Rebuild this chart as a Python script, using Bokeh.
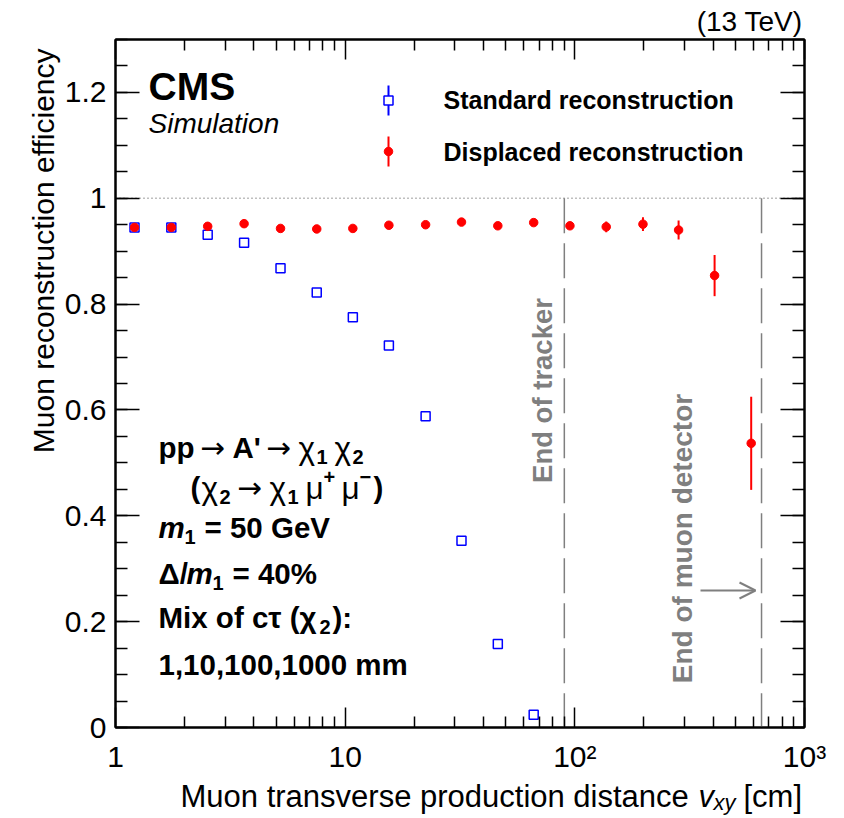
import math
from bokeh.plotting import figure
from bokeh.layouts import column
from bokeh.models import (Label, LogAxis, LinearAxis, FixedTicker, Arrow, OpenHead,
                          ColumnDataSource, Title)
from bokeh.embed import file_html
from bokeh.resources import INLINE

# ---------------- data ----------------
vxy = [1.21, 1.75, 2.52, 3.63, 5.23, 7.52, 10.8, 15.5, 22.4, 32.1, 46.2, 66.2,
       95.2, 137, 198, 283, 406, 586]
disp_eff = [0.945, 0.945, 0.947, 0.952, 0.943, 0.942, 0.943, 0.949, 0.950, 0.955,
            0.948, 0.954, 0.948, 0.946, 0.951, 0.940, 0.854, 0.537]
disp_err = [0.002, 0.002, 0.002, 0.003, 0.003, 0.003, 0.003, 0.003, 0.003, 0.004,
            0.004, 0.005, 0.006, 0.010, 0.013, 0.018, 0.039, 0.088]
std_vxy = [1.21, 1.75, 2.52, 3.63, 5.23, 7.52, 10.8, 15.5, 22.4, 32.1, 46.2, 66.2]
std_eff = [0.945, 0.945, 0.931, 0.916, 0.868, 0.822, 0.775, 0.722, 0.588, 0.353,
           0.158, 0.024]
std_err = [0.002, 0.002, 0.002, 0.002, 0.003, 0.003, 0.003, 0.003, 0.003, 0.003,
           0.003, 0.002]

tracker_end = 90
muon_end = 650
x_major = [1, 10, 100, 1000]
x_minor = [2, 3, 4, 5, 6, 7, 8, 9, 20, 30, 40, 50, 60, 70, 80, 90,
           200, 300, 400, 500, 600, 700, 800, 900]
y_major = [0, 0.2, 0.4, 0.6, 0.8, 1.0, 1.2]
x_labels = {1: "1", 10: "10", 100: "10\u00b2", 1000: "10\u00b3"}
y_labels = {0: "0", 0.2: "0.2", 0.4: "0.4", 0.6: "0.6", 0.8: "0.8", 1: "1", 1.2: "1.2"}

FONT = "Liberation Sans"
ARROWFONT = "DejaVu Sans"
GRAY = "#7f7f7f"

# frame geometry (px) used only for placing annotations
W, H = 844, 818
MAIN_H = 780
L, R, T, B = 115, 804, 39, 727
SHIFT = 11  # label baseline correction (px)


def X(px):
    return 10 ** ((px - L) / (R - L) * 3.0)


def Y(py):
    return (B - py) / (B - T) * 1.3


p = figure(width=W, height=MAIN_H, x_axis_type="log", x_range=(1, 1000), y_range=(0, 1.3),
           output_backend="svg", toolbar_location=None,
           min_border_left=L, min_border_right=W - R, min_border_top=T,
           min_border_bottom=MAIN_H - B)
p.xgrid.visible = False
p.ygrid.visible = False
p.outline_line_color = "black"
p.outline_line_width = 2
p.background_fill_color = "white"
p.border_fill_color = "white"

xt = FixedTicker(ticks=x_major, minor_ticks=x_minor)
yt = FixedTicker(ticks=y_major, minor_ticks=[i * 0.05 for i in range(27)])


def style(ax, labels, major, minor):
    ax.axis_line_width = 2
    ax.major_tick_line_width = 1.5
    ax.minor_tick_line_width = 1.5
    ax.major_tick_in = major
    ax.major_tick_out = 0
    ax.minor_tick_in = minor
    ax.minor_tick_out = 0
    ax.axis_label = None
    if labels:
        ax.major_label_text_font = FONT
        ax.major_label_text_font_size = "30px"
        ax.major_label_text_color = "black"
    else:
        ax.major_label_text_font_size = "1px"
        ax.major_label_text_alpha = 0
        ax.major_label_standoff = 0


bx = p.xaxis[0]
bx.ticker = xt
bx.major_label_overrides = x_labels
bx.major_label_standoff = 12
style(bx, True, 20, 11)
ly = p.yaxis[0]
ly.ticker = yt
ly.major_label_overrides = y_labels
ly.major_label_standoff = 9
style(ly, True, 24, 12)

tx = LogAxis(ticker=FixedTicker(ticks=x_major, minor_ticks=x_minor))
style(tx, False, 20, 11)
p.add_layout(tx, "above")
ry = LinearAxis(ticker=FixedTicker(ticks=y_major, minor_ticks=[i * 0.05 for i in range(27)]))
style(ry, False, 24, 12)
p.add_layout(ry, "right")

# titles living in the side panels
p.add_layout(Title(text="(13 TeV)", align="right", text_font=FONT, text_font_size="28px",
                   text_font_style="normal", text_color="black", standoff=6, offset=2),
             "above")
p.add_layout(Title(text="Muon reconstruction efficiency", align="right", text_font=FONT,
                   text_font_size="30px", text_font_style="normal", text_color="black",
                   standoff=4, offset=9),
             "left")

# reference lines
p.segment(x0=[1], y0=[1], x1=[1000], y1=[1], line_color=GRAY, line_width=1.5, line_dash="1 3")
p.segment(x0=[tracker_end, muon_end], y0=[1, 1], x1=[tracker_end, muon_end], y1=[0, 0],
          line_color=GRAY, line_width=1.5, line_dash="35 10")

# data
ds = ColumnDataSource(dict(x=vxy, y=disp_eff,
                           lo=[v - e for v, e in zip(disp_eff, disp_err)],
                           hi=[v + e for v, e in zip(disp_eff, disp_err)]))
ss = ColumnDataSource(dict(x=std_vxy, y=std_eff,
                           lo=[v - e for v, e in zip(std_eff, std_err)],
                           hi=[v + e for v, e in zip(std_eff, std_err)]))
p.segment(x0="x", y0="lo", x1="x", y1="hi", source=ss, line_color="blue", line_width=2)
p.scatter("x", "y", source=ss, marker="square", size=9, fill_color="white",
          line_color="blue", line_width=1.5)
p.segment(x0="x", y0="lo", x1="x", y1="hi", source=ds, line_color="red", line_width=2)
p.scatter("x", "y", source=ds, marker="circle", size=8.5, fill_color="red", line_color="red")

# legend
lx = X(388)
p.segment(x0=[lx], y0=[Y(115)], x1=[lx], y1=[Y(85)], line_color="blue", line_width=2)
p.scatter([lx], [Y(100)], marker="square", size=9, fill_color="white", line_color="blue",
          line_width=1.5)
p.segment(x0=[lx], y0=[Y(166)], x1=[lx], y1=[Y(136)], line_color="red", line_width=2)
p.scatter([lx], [Y(151)], marker="circle", size=8.5, fill_color="red", line_color="red")


def lab(px, py, text, size, style="normal", color="black", align="left", angle=0,
        font=FONT):
    if angle:
        xx, yy = X(px - SHIFT), Y(py)
    else:
        xx, yy = X(px), Y(py - SHIFT)
    p.add_layout(Label(x=xx, y=yy, text=text, text_font=font,
                       text_font_size=f"{size}px", text_font_style=style,
                       text_color=color, text_align=align, text_baseline="alphabetic",
                       angle=angle))


lab(443, 110, "Standard reconstruction", 25, "bold")
lab(443, 162, "Displaced reconstruction", 25, "bold")

lab(148, 97, "CMS", 39, "bold")
lab(148, 134, "Simulation", 28, "italic")

# process description
F = 29.5
SUB = 20
# line 1: pp -> A' -> chi1 chi2
b1 = 458
lab(158, b1, "pp", F, "bold")
lab(200, b1, "\u2192", F, font=ARROWFONT)
lab(232, b1, "A'", F, "bold")
lab(266, b1, "\u2192", F, font=ARROWFONT)
lab(298, b1, "\u03c7", F + 2)
lab(316, b1 + 9, "1", SUB, "bold")
lab(334, b1, "\u03c7", F + 2)
lab(352, b1 + 9, "2", SUB, "bold")
# line 2: (chi2 -> chi1 mu+ mu-)
b2 = 498
lab(190, b2, "(", F, "bold")
lab(201, b2, "\u03c7", F + 2)
lab(219, b2 + 9, "2", SUB, "bold")
lab(237, b2, "\u2192", F, font=ARROWFONT)
lab(269, b2, "\u03c7", F + 2)
lab(287, b2 + 9, "1", SUB, "bold")
lab(305, b2, "\u03bc", F + 2)
lab(323, b2 - 11, "+", SUB, "bold")
lab(341, b2, "\u03bc", F + 2)
lab(359, b2 - 11, "\u2212", SUB, "bold")
lab(373, b2, ")", F, "bold")
# line 3
b3 = 538
lab(158, b3, "m", F, "bold italic")
lab(184, b3 + 9, "1", SUB, "bold")
lab(204, b3, "= 50 GeV", F, "bold")
# line 4
b4 = 584
lab(158, b4, "\u0394/", F, "bold")
lab(186, b4, "m", F, "bold italic")
lab(212, b4 + 9, "1", SUB, "bold")
lab(232, b4, "= 40%", F, "bold")
# line 5
b5 = 628
lab(158, b5, "Mix of c\u03c4 (\u03c7", F, "bold")
lab(319, b5 + 9, "2", SUB, "bold")
lab(332, b5, "):", F, "bold")
# line 6
lab(158, 675, "1,10,100,1000 mm", F, "bold")

# vertical annotations
lab(553, 390, "End of tracker", 27.5, "bold", GRAY, "center", math.pi / 2)
lab(693, 538, "End of muon detector", 28, "bold", GRAY, "center", math.pi / 2)
p.add_layout(Arrow(end=OpenHead(size=16, line_color=GRAY, line_width=2),
                   x_start=X(700), y_start=Y(590), x_end=X(755), y_end=Y(590),
                   line_color=GRAY, line_width=2))

# ---------- strip below the plot for the x-axis title ----------
# (its frame is aligned with the main frame by the column layout, so x is in page px)
q = figure(width=W, height=H - MAIN_H, x_range=(L, R), y_range=(0, H - MAIN_H),
           output_backend="svg", toolbar_location=None, x_axis_type=None, y_axis_type=None,
           min_border=0, min_border_left=0, min_border_right=0, min_border_top=0,
           min_border_bottom=0)
q.outline_line_color = None
q.xgrid.visible = False
q.ygrid.visible = False
q.background_fill_color = "white"
q.border_fill_color = "white"


def qlab(px, py, text, size, style="normal"):
    q.add_layout(Label(x=px, y=H - (py - SHIFT), text=text, text_font=FONT,
                       text_font_size=f"{size}px", text_font_style=style,
                       text_color="black", text_align="left", text_baseline="alphabetic"))


qlab(180, 807, "Muon transverse production distance", 31)
qlab(698, 807, "v", 31, "italic")
qlab(713, 813, "xy", 22, "italic")
qlab(743, 807, "[cm]", 31)

layout = column(p, q, spacing=0)
open("out.html", "w").write(file_html(layout, INLINE))
